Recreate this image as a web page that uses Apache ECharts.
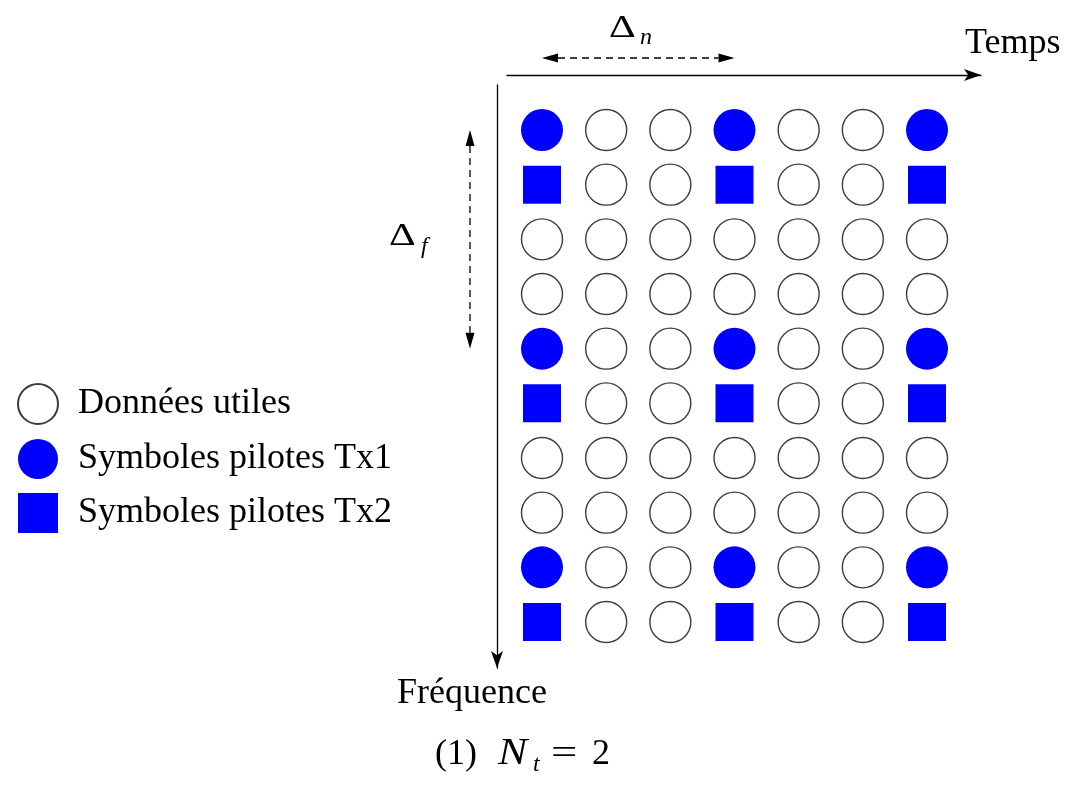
<!DOCTYPE html>
<html>
<head>
<meta charset="utf-8">
<script src="https://cdn.jsdelivr.net/npm/echarts@6/dist/echarts.min.js"></script>
<style>
  html, body { margin: 0; background: #fff; }
  #chart { width: 1074px; height: 791px; }
</style>
</head>
<body>
<div id="chart"></div>
<script>
// indices temps (colonnes) et fréquence (lignes)
const timeSlots = [0, 1, 2, 3, 4, 5, 6];
const subcarriers = [0, 1, 2, 3, 4, 5, 6, 7, 8, 9];
// une chaîne par sous-porteuse : O = donnée utile, P = pilote Tx1, S = pilote Tx2
const cellPattern = [
  'POOPOOP',
  'SOOSOOS',
  'OOOOOOO',
  'OOOOOOO',
  'POOPOOP',
  'SOOSOOS',
  'OOOOOOO',
  'OOOOOOO',
  'POOPOOP',
  'SOOSOOS'
];
const seriesNames = ['Données utiles', 'Symboles pilotes Tx1', 'Symboles pilotes Tx2'];
const deltaN = [0, 3];  // écart des pilotes en temps
const deltaF = [0, 4];  // écart des pilotes en fréquence

const FONT = 'Liberation Serif';
const BLUE = '#0000ff';

// points de chaque série
const dataPts = [], tx1Pts = [], tx2Pts = [];
cellPattern.forEach((row, r) => {
  row.split('').forEach((ch, c) => {
    const p = [timeSlots[c], subcarriers[r]];
    if (ch === 'P') tx1Pts.push(p);
    else if (ch === 'S') tx2Pts.push(p);
    else dataPts.push(p);
  });
});

// mise en page (pixels)
const box = { left: 507, top: 85, right: 981, bottom: 668 };
const colStep = (927 - 542) / (timeSlots.length - 1);
const rowStep = (622 - 130) / (subcarriers.length - 1);
const xMin = timeSlots[0] - (542 - box.left) / colStep;
const xMax = timeSlots[0] + (box.right - 542) / colStep;
const yMin = subcarriers[0] - (130 - box.top) / rowStep;
const yMax = subcarriers[0] + (box.bottom - 130) / rowStep;

const hiddenBits = {
  axisTick: { show: false },
  axisLabel: { show: false },
  splitLine: { show: false }
};

const chart = echarts.init(document.getElementById('chart'));
chart.setOption({
  animation: false,
  backgroundColor: '#ffffff',
  grid: {
    left: box.left,
    top: box.top,
    width: box.right - box.left,
    height: box.bottom - box.top,
    containLabel: false
  },
  legend: {
    orient: 'vertical',
    left: 12,
    top: 378,
    itemWidth: 40,
    itemHeight: 40,
    itemGap: 14,
    selectedMode: false,
    data: seriesNames,
    textStyle: { fontFamily: FONT, fontSize: 36, color: '#000', padding: [0, 0, 0, 15] }
  },
  xAxis: Object.assign({
    type: 'value',
    position: 'top',
    offset: 10,
    min: xMin,
    max: xMax,
    axisLine: {
      show: true,
      onZero: false,
      symbol: ['none', 'arrow'],
      symbolSize: [9, 17],
      lineStyle: { color: '#000', width: 1.3 }
    }
  }, hiddenBits),
  yAxis: Object.assign({
    type: 'value',
    inverse: true,
    position: 'left',
    offset: 10,
    min: yMin,
    max: yMax,
    axisLine: {
      show: true,
      onZero: false,
      symbol: ['arrow', 'none'],
      symbolSize: [9, 17],
      lineStyle: { color: '#000', width: 1.3 }
    }
  }, hiddenBits),
  series: [
    {
      name: seriesNames[0],
      type: 'scatter',
      symbol: 'circle',
      symbolSize: 41,
      data: dataPts,
      itemStyle: { color: '#ffffff', borderColor: '#3c3c3c', borderWidth: 1.4, opacity: 1 }
    },
    {
      name: seriesNames[1],
      type: 'scatter',
      symbol: 'circle',
      symbolSize: 42,
      data: tx1Pts,
      itemStyle: { color: BLUE, opacity: 1 }
    },
    {
      name: seriesNames[2],
      type: 'scatter',
      symbol: 'rect',
      symbolSize: 38,
      data: tx2Pts,
      itemStyle: { color: BLUE, opacity: 1 }
    }
  ]
});

// flèches pointillées Δn / Δf, placées via les échelles
function px(x, y) { return chart.convertToPixel({ gridIndex: 0 }, [x, y]); }

function dashedArrow(a, b) {
  const dx = b[0] - a[0], dy = b[1] - a[1];
  const L = Math.sqrt(dx * dx + dy * dy);
  const ux = dx / L, uy = dy / L, nx = -uy, ny = ux;
  const len = 16, half = 4.5;
  const head = (tip, s) => ({
    type: 'polygon',
    shape: { points: [
      tip,
      [tip[0] - s * ux * len + nx * half, tip[1] - s * uy * len + ny * half],
      [tip[0] - s * ux * len - nx * half, tip[1] - s * uy * len - ny * half]
    ] },
    style: { fill: '#000' }
  });
  return [
    {
      type: 'line',
      shape: { x1: a[0] + ux * len, y1: a[1] + uy * len, x2: b[0] - ux * len, y2: b[1] - uy * len },
      style: { stroke: '#000', lineWidth: 1.3, lineDash: [7, 5] }
    },
    head(a, -1),
    head(b, 1)
  ];
}

const nA = px(deltaN[0], 0), nB = px(deltaN[1], 0);
const fA = px(0, deltaF[0]), fB = px(0, deltaF[1]);
const nY = 58, fX = 470;

// texte posé sur sa ligne de base (baseline ≈ haut + 0.83 * taille)
function txt(str, x, base, size, italic, extra) {
  return Object.assign({
    type: 'text',
    x: x,
    y: base - Math.round(size * 0.83),
    style: {
      text: str,
      font: (italic ? 'italic ' : '') + size + 'px "' + FONT + '"',
      fill: '#000',
      align: 'left',
      verticalAlign: 'top'
    }
  }, extra || {});
}

chart.setOption({
  graphic: [].concat(
    dashedArrow([nA[0], nY], [nB[0], nY]),
    dashedArrow([fX, fA[1]], [fX, fB[1]]),
    [
      txt('Temps', 965, 56, 36, false),
      txt('Fréquence', 397, 706, 36, false),
      txt('Δ', 609, 40, 32, false, { scaleX: 1.3 }),
      txt('n', 640, 46, 24, true),
      txt('Δ', 389, 248, 32, false, { scaleX: 1.3 }),
      txt('f', 421, 255, 24, true),
      txt('(1)', 435, 767, 36, false),
      txt('N', 498, 767, 38, true, { scaleX: 1.15 }),
      txt('t', 533, 773, 24, true),
      txt('=', 551, 767, 36, false, { scaleX: 1.3 }),
      txt('2', 592, 767, 36, false)
    ]
  )
});
</script>
</body>
</html>
